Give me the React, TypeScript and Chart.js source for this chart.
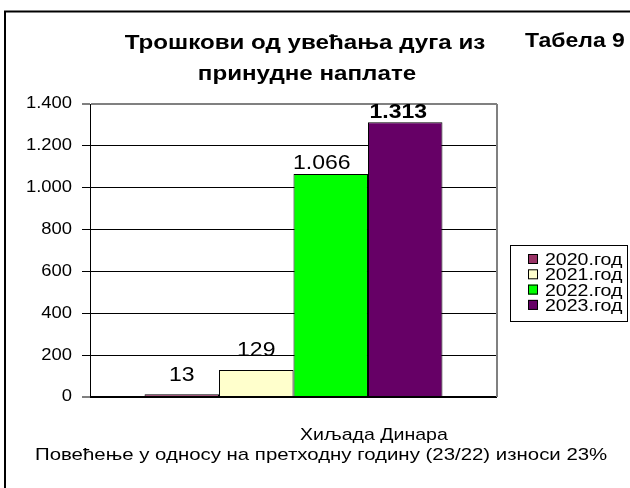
import React, { useEffect, useRef } from "react";
import { Chart, registerables } from "chart.js";

Chart.register(...registerables);

// ---- data ----
const categories = [""];
const seriesLabels = ["2020.год", "2021.год", "2022.год", "2023.год"];
const seriesValues = [13, 129, 1066, 1313];
const seriesColors = ["#993366", "#FFFFCC", "#00FF00", "#660066"];
const yMin = 0;
const yMax = 1400;
const yStep = 200;

const titleLines = ["Трошкови од увећања дуга из", "принудне наплате"];
const tableLabel = "Табела 9";
const unitLabel = "Хиљада Динара";
const noteLabel = "Повећење у односу на претходну годину (23/22) износи 23%";

// ---- styling (not data) ----
const FONT = "'Liberation Sans', Arial, sans-serif";
const SX = 1.15; // horizontal stretch of the reference's text
const labelStyle = [
  { dx: 0, dy: 13, bold: false },
  { dx: 0, dy: 14, bold: false },
  { dx: -9, dy: 5, bold: false },
  { dx: -7, dy: 4, bold: true },
];

function fmt(v: number): string {
  const s = String(Math.round(v));
  return s.replace(/\B(?=(\d{3})+(?!\d))/g, ".");
}

function txt(
  ctx: CanvasRenderingContext2D,
  s: string,
  x: number,
  y: number,
  font: string,
  align: CanvasTextAlign = "left",
  sx: number = SX,
  baseline: CanvasTextBaseline = "alphabetic"
) {
  ctx.save();
  ctx.font = font;
  ctx.fillStyle = "#000";
  ctx.textAlign = align;
  ctx.textBaseline = baseline;
  ctx.translate(x, y);
  ctx.scale(sx, 1);
  ctx.fillText(s, 0, 0);
  ctx.restore();
}

const decorPlugin = {
  id: "decor",
  afterDraw(chart: any) {
    const ctx: CanvasRenderingContext2D = chart.ctx;
    const area = chart.chartArea;

    // outer frame
    ctx.save();
    ctx.strokeStyle = "#000";
    ctx.lineWidth = 2;
    ctx.beginPath();
    ctx.moveTo(5, 500);
    ctx.lineTo(5, 11.5);
    ctx.lineTo(640, 11.5);
    ctx.stroke();
    ctx.restore();

    // plot area right border (gray)
    ctx.save();
    ctx.strokeStyle = "#808080";
    ctx.lineWidth = 2;
    ctx.beginPath();
    ctx.moveTo(area.right, area.top);
    ctx.lineTo(area.right, area.bottom);
    ctx.stroke();
    ctx.restore();

    // y tick labels from the library's scale
    const y = chart.scales.y;
    y.ticks.forEach((t: any, i: number) => {
      const py = y.getPixelForTick(i);
      txt(ctx, fmt(t.value), area.left - 18, py, `16px ${FONT}`, "right", SX, "middle");
    });

    // titles
    txt(ctx, titleLines[0], 305, 49, `bold 21px ${FONT}`, "center");
    txt(ctx, titleLines[1], 307, 80, `bold 21px ${FONT}`, "center");
    txt(ctx, tableLabel, 525, 47, `bold 20px ${FONT}`, "left");
    txt(ctx, unitLabel, 300, 440, `17px ${FONT}`, "left");
    txt(ctx, noteLabel, 35, 460, `17px ${FONT}`, "left", 1.2);

    // data labels
    chart.data.datasets.forEach((ds: any, i: number) => {
      const meta = chart.getDatasetMeta(i);
      const el = meta.data[0];
      const st = labelStyle[i];
      txt(
        ctx,
        fmt(ds.data[0]),
        el.x + st.dx,
        el.y - st.dy,
        `${st.bold ? "bold " : ""}20px ${FONT}`,
        "center"
      );
    });

    // legend box
    const lx = 510, ly = 245, lw = 117, lh = 76;
    ctx.save();
    ctx.fillStyle = "#fff";
    ctx.fillRect(lx, ly, lw, lh);
    ctx.strokeStyle = "#000";
    ctx.lineWidth = 1;
    ctx.strokeRect(lx + 0.5, ly + 0.5, lw, lh);
    ctx.restore();
    chart.data.datasets.forEach((ds: any, i: number) => {
      const cy = 259 + i * 15.3;
      ctx.save();
      ctx.fillStyle = ds.backgroundColor;
      ctx.fillRect(528, cy - 5, 10, 10);
      ctx.strokeStyle = "#000";
      ctx.lineWidth = 1;
      ctx.strokeRect(528.5, cy - 4.5, 9, 9);
      ctx.restore();
      txt(ctx, ds.label, 545, cy + 6, `17px ${FONT}`, "left");
    });
  },
};

export default function App() {
  const ref = useRef<HTMLCanvasElement | null>(null);

  useEffect(() => {
    if (!ref.current) return;
    const chart = new Chart(ref.current, {
      type: "bar",
      data: {
        labels: categories,
        datasets: seriesLabels.map((label, i) => ({
          label,
          data: [seriesValues[i]],
          backgroundColor: seriesColors[i],
          borderColor: "#000",
          borderWidth: 1,
          barPercentage: 1,
          categoryPercentage: 0.732,
        })),
      },
      options: {
        responsive: false,
        animation: false,
        layout: { padding: { left: 0, top: 104, right: 133, bottom: 91 } },
        plugins: {
          legend: { display: false },
          title: { display: false },
          tooltip: { enabled: false },
        },
        scales: {
          x: { display: false },
          y: {
            min: yMin,
            max: yMax,
            ticks: { stepSize: yStep, display: false },
            grid: {
              color: (c: any) => (c.tick && c.tick.value === yMax ? "#808080" : "#000"),
              lineWidth: (c: any) =>
                c.tick && (c.tick.value === yMax || c.tick.value === yMin) ? 2 : 1,
              tickColor: "#000",
              tickWidth: 1,
              tickLength: 8,
              drawTicks: true,
            },
            border: { display: true, color: "#000", width: 1 },
            afterFit: (scale: any) => {
              scale.width = 90;
            },
          },
        },
      },
      plugins: [decorPlugin],
    });
    return () => chart.destroy();
  }, []);

  return (
    <div style={{ position: "absolute", left: 0, top: 0, width: 630, height: 488, background: "#fff" }}>
      <canvas ref={ref} width={630} height={488} style={{ display: "block" }} />
    </div>
  );
}
